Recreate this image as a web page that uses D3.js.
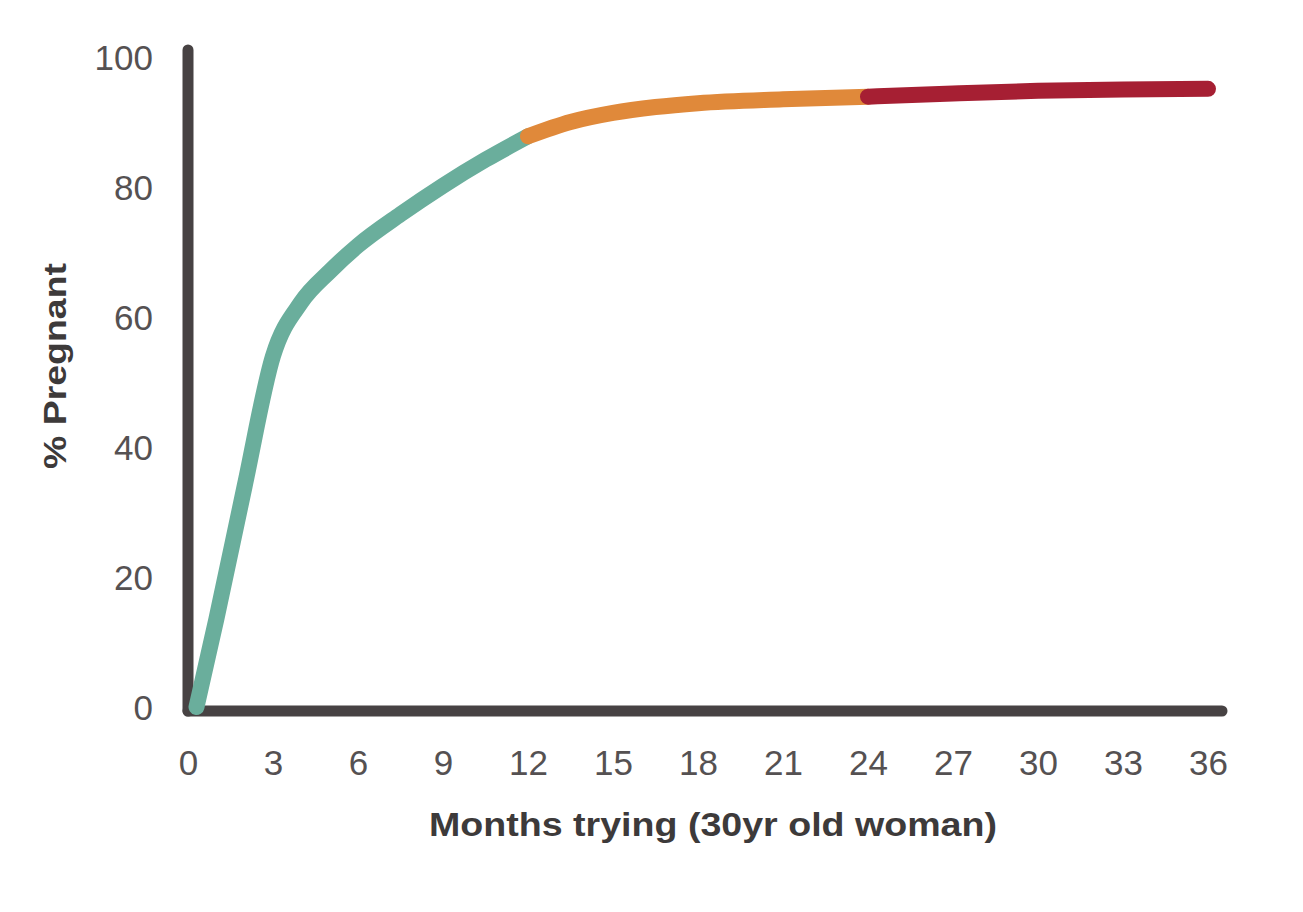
<!DOCTYPE html>
<html>
<head>
<meta charset="utf-8">
<script src="https://cdn.jsdelivr.net/npm/d3@7"></script>
<style>
  html, body { margin: 0; padding: 0; background: #fff; }
  svg { display: block; }
</style>
</head>
<body>
<div id="chart"></div>
<script>
// ---- data ----
const xTicks = [0, 3, 6, 9, 12, 15, 18, 21, 24, 27, 30, 33, 36];
const yTicks = [0, 20, 40, 60, 80, 100];
const months   = [0.3, 1, 2, 3, 4, 5, 6, 7.5, 9, 10.5, 12, 13.5, 15, 16.5, 18, 21, 24, 27, 30, 33, 36];
const pregnant = [0, 13.5, 34, 54, 62.3, 67, 71, 75.8, 80.2, 84.2, 87.8, 90.0, 91.4, 92.3, 92.9, 93.5, 93.9, 94.4, 94.8, 95.0, 95.1];
const segmentNames = ["first year", "second year", "third year"];
const segmentRanges = [[0, 12], [12, 24], [24, 36]];
const segmentColors = ["#6aae9c", "#e0893a", "#a61f33"];
const xTitle = "Months trying (30yr old woman)";
const yTitle = "% Pregnant";

// ---- layout ----
const W = 1303, H = 912;
const svg = d3.select("#chart").append("svg").attr("width", W).attr("height", H);

const x = d3.scaleLinear().domain([0, 36]).range([188, 1208]);
const y = d3.scaleLinear().domain([0, 100]).range([707, 57]);

const axisColor = "#474243";
const axisY0 = 711;

// axis lines
svg.append("line")
  .attr("x1", x(0)).attr("x2", x(0))
  .attr("y1", axisY0).attr("y2", 50)
  .attr("stroke", axisColor).attr("stroke-width", 11).attr("stroke-linecap", "round");
svg.append("line")
  .attr("x1", x(0)).attr("x2", 1222)
  .attr("y1", axisY0).attr("y2", axisY0)
  .attr("stroke", axisColor).attr("stroke-width", 11).attr("stroke-linecap", "round");

// tick labels via d3 axes (domain/ticks hidden)
const tickFont = "'Liberation Sans', Arial, Helvetica, sans-serif";
const yAxis = svg.append("g")
  .attr("transform", "translate(153,0)")
  .call(d3.axisLeft(y).tickValues(yTicks).tickSize(0).tickPadding(0));
yAxis.select(".domain").remove();
yAxis.selectAll("text")
  .attr("font-family", tickFont).attr("font-size", 35).attr("fill", "#555152")
  .attr("dy", "0.36em");

const xAxis = svg.append("g")
  .attr("transform", "translate(0,762)")
  .call(d3.axisBottom(x).tickValues(xTicks).tickSize(0).tickPadding(0));
xAxis.select(".domain").remove();
xAxis.selectAll("text")
  .attr("font-family", tickFont).attr("font-size", 35).attr("fill", "#555152")
  .attr("dy", "0.36em");

// titles
svg.append("text")
  .attr("x", 713).attr("y", 836)
  .attr("text-anchor", "middle")
  .attr("font-family", tickFont).attr("font-weight", "bold")
  .attr("font-size", 34).attr("fill", "#3d3a3a")
  .attr("textLength", 568).attr("lengthAdjust", "spacingAndGlyphs")
  .text(xTitle);
svg.append("text")
  .attr("transform", "translate(66,366) rotate(-90)")
  .attr("text-anchor", "middle")
  .attr("font-family", tickFont).attr("font-weight", "bold")
  .attr("font-size", 31).attr("fill", "#3d3a3a")
  .attr("textLength", 206).attr("lengthAdjust", "spacingAndGlyphs")
  .text(yTitle);

// curve segments
const pts = months.map((m, i) => ({ m, v: pregnant[i] }));
const line = d3.line().x(d => x(d.m)).y(d => y(d.v)).curve(d3.curveMonotoneX);

segmentRanges.forEach((r, i) => {
  const seg = pts.filter(p => p.m >= r[0] && p.m <= r[1]);
  svg.append("path")
    .datum(seg)
    .attr("d", line)
    .attr("fill", "none")
    .attr("stroke", segmentColors[i])
    .attr("stroke-width", 16)
    .attr("stroke-linecap", "round")
    .attr("stroke-linejoin", "round")
    .attr("data-name", segmentNames[i]);
});
</script>
</body>
</html>
